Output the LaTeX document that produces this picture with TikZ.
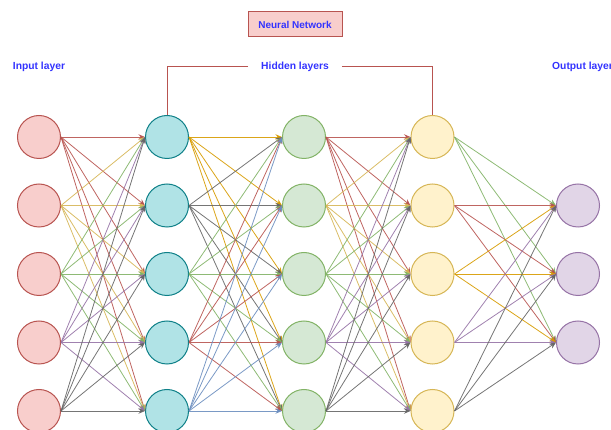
\documentclass[tikz,border=0pt]{standalone}
\usepackage{fontspec}
\setmainfont{Liberation Sans}
\usetikzlibrary{arrows.meta}
\definecolor{redE}{HTML}{B85450}
\definecolor{yelE}{HTML}{D6B656}
\definecolor{grnE}{HTML}{82B366}
\definecolor{purE}{HTML}{9673A6}
\definecolor{gryE}{HTML}{666666}
\definecolor{orgE}{HTML}{D79B00}
\definecolor{bluE}{HTML}{6C8EBF}
\definecolor{cyaE}{HTML}{0E8088}
\definecolor{pinkF}{HTML}{F8CECC}
\definecolor{cyaF}{HTML}{B0E3E6}
\definecolor{grnF}{HTML}{D5E8D4}
\definecolor{yelF}{HTML}{FFF2CC}
\definecolor{purF}{HTML}{E1D5E7}
\definecolor{txtB}{HTML}{3333FF}
\begin{document}
\begin{tikzpicture}[x=1pt,y=-1pt,
  neuron/.style={circle,minimum size=43pt,inner sep=0pt,line width=1pt},
  edge/.style={line width=0.8pt,draw opacity=0.9,-{Stealth[length=6.5pt,width=5.5pt]}},
  lbl/.style={text=txtB,font=\bfseries\fontsize{10.3}{12}\selectfont,inner sep=0pt}]
\useasboundingbox (0,0) rectangle (611,430);
\foreach \k/\y in {1/137,2/205.5,3/274,4/342.5,5/411}{
  \node[neuron,draw=redE,fill=pinkF] (i\k) at (39,\y) {};
  \node[neuron,draw=cyaE,fill=cyaF] (a\k) at (167,\y) {};
  \node[neuron,draw=grnE,fill=grnF] (b\k) at (304,\y) {};
  \node[neuron,draw=yelE,fill=yelF] (c\k) at (432.5,\y) {};
}
\foreach \k/\y in {1/205.5,2/274,3/342.5}{
  \node[neuron,draw=purE,fill=purF] (o\k) at (578,\y) {};
}
\foreach \s/\c in {1/redE,2/yelE,3/grnE,4/purE,5/gryE}{
  \foreach \t in {1,...,5}{\draw[edge,\c] (i\s.east) -- (a\t.west);}
}
\foreach \s/\c in {1/orgE,2/gryE,3/grnE,4/redE,5/bluE}{
  \foreach \t in {1,...,5}{\draw[edge,\c] (a\s.east) -- (b\t.west);}
}
\foreach \s/\c in {1/redE,2/yelE,3/grnE,4/purE,5/gryE}{
  \foreach \t in {1,...,5}{\draw[edge,\c] (b\s.east) -- (c\t.west);}
}
\foreach \s/\c in {1/grnE,2/redE,3/orgE,4/purE,5/gryE}{
  \foreach \t in {1,2,3}{\draw[edge,\c] (c\s.east) -- (o\t.west);}
}
\node[draw=redE,fill=pinkF,line width=1pt,minimum width=94pt,minimum height=25pt,text=txtB,font=\bfseries\fontsize{10}{12}\selectfont] (title) at (295,24.5) {Neural Network};
\node[lbl] (inl) at (39,67) {Input layer};
\node[lbl,inner xsep=13pt] (hid) at (295,67) {Hidden layers};
\node[lbl,anchor=west] (outl) at (552,67) {Output layer};
\draw[redE,line width=1pt] (hid.west) -| (a1.north);
\draw[redE,line width=1pt] (hid.east) -| (c1.north);
\end{tikzpicture}
\end{document}
